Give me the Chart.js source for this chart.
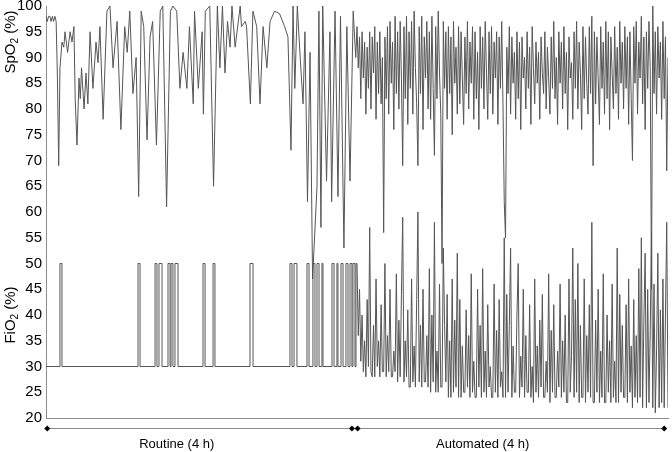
<!DOCTYPE html>
<html>
<head>
<meta charset="utf-8">
<script src="https://cdn.jsdelivr.net/npm/chart.js@4.4.0/dist/chart.umd.min.js"></script>
<style>
  html, body { margin: 0; padding: 0; background: #fff; }
  #wrap { width: 672px; height: 452px; }
</style>
</head>
<body>
<div id="wrap"><canvas id="myChart" width="672" height="452"></canvas></div>
<script>
// time in minutes, routine period ~0-244, automated period 245-490
var routineSpo2Time = [0, 1, 2, 3, 4, 5, 6, 7, 8, 9, 10, 11, 12.6, 14, 15, 17, 19, 20.5, 22, 23, 24.4, 26, 27, 28, 30, 31.5, 33, 34.7, 37, 39.4, 41, 42.5, 45, 48, 50.4, 52.8, 56, 59, 62, 64, 66, 68.5, 71, 73, 75, 77, 79.6, 82, 84, 87, 90, 92, 95, 98, 100, 103, 105.5, 108, 111, 113, 116, 117, 120, 123, 124, 125.5, 129, 132, 135, 137, 139, 141, 143, 145, 146.5, 149, 153, 154, 157, 158, 161, 163, 166, 168.6, 171, 174, 176.5, 180, 184, 188, 190.6, 193, 194.6, 196, 198, 200, 202.5, 204, 206, 208, 210, 213.5, 215, 216.6, 218, 221, 223.7, 225, 227.7, 230, 232, 234.7, 237, 239.5, 242, 244];
var routineSpo2 = [98, 97, 98, 98, 97, 98, 97, 98, 97, 86, 69, 88, 93, 92, 95, 91, 95, 93, 96, 82, 73, 86, 82, 88, 80, 87, 81, 95, 84, 93, 89, 96, 78, 99, 100, 88, 97, 76, 96, 91, 99, 83, 90, 63, 99, 96, 74, 94, 97, 73, 99, 100, 61, 99, 100, 99, 84, 91, 84, 96, 81, 99, 84, 95, 79, 99, 100, 65, 100, 88, 100, 87, 97, 92, 100, 92, 100, 96, 97, 96, 81, 99, 96, 81, 96, 88, 97, 99, 98.5, 96, 94, 72, 100, 84, 100, 91, 81, 95, 62, 91, 47, 65, 99, 57, 100, 66, 95, 62, 99, 63, 98, 53, 96, 66, 99, 90];

var autoStart = 245;
var autoSpo2 = [
  96, 88, 94, 82, 95, 86, 93, 79, 92, 84,
  95, 80, 94, 87, 96, 78, 93, 83, 95, 81,
  90, 56, 94, 82, 96, 79, 97, 85, 93, 76,
  98, 83, 95, 80, 97, 86, 69, 96, 82, 98,
  77, 95, 84, 97, 79, 99, 88, 81, 69, 96,
  83, 98, 76, 94, 86, 97, 80, 95, 78, 98,
  84, 71, 96, 82, 99, 87, 79, 50, 97, 84,
  95, 78, 96, 83, 94, 75, 97, 85, 92, 79,
  96, 81, 95, 86, 77, 94, 83, 97, 80, 93,
  85, 96, 78, 95, 82, 91, 76, 96, 84, 94,
  80, 97, 87, 78, 95, 83, 96, 79, 93, 86,
  95, 77, 94, 84, 97, 81, 62, 55, 92, 83,
  96, 79, 94, 85, 91, 78, 95, 82, 93, 76,
  94, 86, 90, 80, 95, 84, 92, 77, 96, 88,
  81, 93, 85, 91, 78, 94, 87, 83, 95, 80,
  92, 86, 79, 94, 84, 97, 82, 90, 77, 95,
  85, 93, 80, 96, 83, 91, 76, 94, 86, 89,
  78, 95, 84, 97, 80, 93, 87, 76, 96, 82,
  94, 85, 79, 96, 83, 98, 69, 95, 81, 94,
  86, 77, 96, 84, 93, 79, 97, 82, 95, 76,
  94, 87, 80, 96, 83, 92, 78, 97, 85, 93,
  80, 96, 84, 94, 77, 95, 82, 70, 96, 85,
  97, 79, 93, 86, 98, 81, 94, 76, 95, 84,
  97, 88, 45, 100, 83, 95, 79, 96, 86, 93,
  78, 97, 82, 94, 68, 90
];

// FiO2 routine: change points (value holds until next point)
var routineFio2Time = [0, 11, 12.6, 72.5, 74.1, 85.9, 87.4, 89, 91.4, 96.1, 97.7, 98.5, 100, 101.6, 104, 123.7, 125.3, 131.6, 133.1, 160.7, 163.1, 192.2, 193.8, 195.4, 197.7, 205.6, 207.2, 210.3, 211.9, 213.5, 215.1, 217.4, 218.2, 225.3, 226.9, 229.2, 230, 232.4, 234, 236.3, 237.9, 239.5, 241, 241.8, 243.4, 244.2, 245];
var routineFio2 = [30, 50, 30, 50, 30, 50, 30, 50, 30, 50, 30, 50, 30, 50, 30, 50, 30, 50, 30, 50, 30, 50, 30, 50, 30, 50, 30, 50, 30, 50, 30, 50, 30, 50, 30, 50, 30, 50, 30, 50, 30, 50, 30, 50, 30, 50, 50];

var autoFio2 = [
  50, 36, 45, 31, 40, 29, 35, 28, 43, 30,
  57, 29, 28, 38, 28, 47, 30, 35, 28, 42,
  29, 29, 50, 28, 36, 29, 45, 28, 28, 33,
  29, 48, 27, 39, 28, 44, 59, 27, 35, 28,
  41, 26, 26, 47, 27, 34, 26, 43, 60, 27,
  38, 26, 45, 27, 27, 36, 26, 49, 25, 40,
  27, 58, 25, 33, 25, 46, 26, 26, 53, 38,
  27, 44, 24, 35, 24, 47, 25, 39, 26, 52,
  24, 43, 24, 34, 25, 25, 41, 26, 36, 24,
  48, 25, 31, 24, 24, 45, 26, 38, 24, 49,
  25, 33, 24, 42, 26, 30, 24, 24, 46, 25,
  37, 24, 43, 26, 29, 24, 55, 24, 44, 25,
  38, 53, 24, 34, 25, 25, 40, 50, 24, 32,
  26, 45, 24, 36, 25, 25, 42, 24, 30, 23,
  47, 25, 34, 24, 39, 26, 44, 24, 24, 31,
  25, 48, 23, 37, 25, 42, 24, 24, 33, 26,
  46, 24, 35, 25, 40, 23, 23, 47, 25, 32,
  53, 24, 43, 25, 50, 23, 38, 24, 24, 47,
  23, 36, 25, 42, 24, 58, 23, 23, 39, 25,
  45, 23, 33, 24, 48, 23, 23, 40, 25, 35,
  23, 46, 24, 31, 23, 53, 23, 44, 25, 38,
  24, 24, 42, 23, 47, 25, 34, 22, 43, 24,
  36, 23, 49, 24, 55, 22, 39, 52, 22, 45,
  23, 37, 56, 22, 46, 21, 33, 52, 22, 41,
  23, 47, 22, 40, 58, 22
];

// bracket under the axis: [start, end] in minutes
var routineSpan = [1, 241];
var autoSpan = [245.5, 487];
var spanLabels = ['Routine (4 h)', 'Automated (4 h)'];

var spo2Points = routineSpo2Time.map((t, i) => ({ x: t, y: routineSpo2[i] }))
  .concat(autoSpo2.map((v, i) => ({ x: autoStart + i, y: v })));
var fio2RoutinePoints = routineFio2Time.map((t, i) => ({ x: t, y: routineFio2[i] }));
var fio2AutoPoints = autoFio2.map((v, i) => ({ x: autoStart + i, y: v }));

var fontFam = '"Liberation Sans", Arial, sans-serif';
var lineGrey = '#555';

function drawTitle(ctx, main, sub, rest, cx, cy) {
  ctx.save();
  ctx.translate(cx, cy);
  ctx.rotate(-Math.PI / 2);
  ctx.fillStyle = '#000';
  ctx.textBaseline = 'middle';
  ctx.textAlign = 'left';
  ctx.font = '15px ' + fontFam;
  var w1 = ctx.measureText(main).width;
  var w3 = ctx.measureText(rest).width;
  ctx.font = '10px ' + fontFam;
  var w2 = ctx.measureText(sub).width;
  var x = -(w1 + w2 + w3) / 2;
  ctx.font = '15px ' + fontFam;
  ctx.fillText(main, x, 0);
  ctx.font = '10px ' + fontFam;
  ctx.fillText(sub, x + w1, 4);
  ctx.font = '15px ' + fontFam;
  ctx.fillText(rest, x + w1 + w2, 0);
  ctx.restore();
}

var extras = {
  id: 'extras',
  afterDraw(chart) {
    var ctx = chart.ctx;
    var xs = chart.scales.x;
    var area = chart.chartArea;

    drawTitle(ctx, 'SpO', '2', ' (%)', 11, 42);
    drawTitle(ctx, 'FiO', '2', ' (%)', 11, 315);

    var by = area.bottom + 10;
    ctx.save();
    ctx.strokeStyle = '#8c8c8c';
    ctx.lineWidth = 1;
    ctx.beginPath();
    ctx.moveTo(xs.getPixelForValue(0), by + 0.5);
    ctx.lineTo(xs.getPixelForValue(488.5), by + 0.5);
    ctx.stroke();

    ctx.fillStyle = '#000';
    [routineSpan[0], routineSpan[1], autoSpan[0], autoSpan[1]].forEach(function (t) {
      var px = xs.getPixelForValue(t);
      ctx.beginPath();
      ctx.moveTo(px, by + 0.5 - 3);
      ctx.lineTo(px + 3, by + 0.5);
      ctx.lineTo(px, by + 0.5 + 3);
      ctx.lineTo(px - 3, by + 0.5);
      ctx.closePath();
      ctx.fill();
    });

    // labels sit left of the bracket middles, as in the original
    ctx.font = '13px ' + fontFam;
    ctx.textAlign = 'center';
    ctx.textBaseline = 'middle';
    ctx.fillText(spanLabels[0], xs.getPixelForValue(103), by + 16);
    ctx.fillText(spanLabels[1], xs.getPixelForValue(344), by + 16);
    ctx.restore();
  }
};

var ctx = document.getElementById('myChart').getContext('2d');

var myChart = new Chart(ctx, {
  type: 'line',
  data: {
    datasets: [{
      label: 'SpO2',
      data: spo2Points,
      borderColor: lineGrey,
      borderWidth: 1,
      pointRadius: 0,
      tension: 0
    }, {
      label: 'FiO2 routine',
      data: fio2RoutinePoints,
      borderColor: lineGrey,
      borderWidth: 1,
      pointRadius: 0,
      stepped: true
    }, {
      label: 'FiO2 automated',
      data: fio2AutoPoints,
      borderColor: lineGrey,
      borderWidth: 1,
      pointRadius: 0,
      tension: 0
    }]
  },
  options: {
    responsive: false,
    animation: false,
    layout: { padding: { top: 6, right: 4, left: 0, bottom: 0 } },
    plugins: {
      legend: { display: false },
      tooltip: { enabled: false }
    },
    scales: {
      x: {
        type: 'linear',
        min: 0,
        max: 490,
        ticks: { display: false },
        grid: { display: false, drawTicks: false },
        border: { display: true, color: '#8c8c8c' },
        afterFit(scale) {
          scale.height = 34;
          scale.paddingLeft = 0;
          scale.paddingRight = 0;
        }
      },
      y: {
        min: 20,
        max: 100,
        ticks: {
          stepSize: 5,
          color: '#000',
          padding: 4,
          font: { family: fontFam, size: 15 }
        },
        grid: { display: false, drawTicks: false },
        border: { display: true, color: '#8c8c8c' },
        afterFit(scale) {
          scale.width = 46;
          scale.paddingTop = 0;
          scale.paddingBottom = 0;
        }
      }
    }
  },
  plugins: [extras]
});
</script>
</body>
</html>
